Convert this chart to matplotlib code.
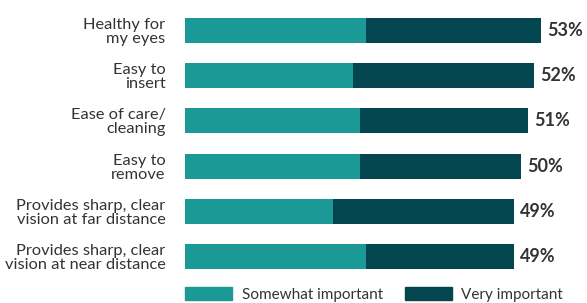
import matplotlib
matplotlib.use("Agg")
import matplotlib.pyplot as plt
from matplotlib.patches import Patch

categories = ["Healthy for\nmy eyes", "Easy to\ninsert", "Ease of care/\ncleaning",
              "Easy to\nremove", "Provides sharp, clear\nvision at far distance",
              "Provides sharp, clear\nvision at near distance"]
somewhat = [27, 25, 26, 26, 22, 27]
very = [26, 27, 25, 24, 27, 22]
totals = [53, 52, 51, 50, 49, 49]
series_names = ["Somewhat important", "Very important"]

c_some = "#1b9997"
c_very = "#03464f"
txt = "#333333"

plt.rcParams['font.family'] = ['Lato', 'DejaVu Sans']

W, H = 587, 303
fig = plt.figure(figsize=(W/100, H/100), dpi=100)
ax = fig.add_axes([185/W, (H-279.1)/H, (W-185)/W, (279.1-7.9)/H])

y = list(range(len(categories)))
ax.barh(y, somewhat, height=0.553, color=c_some)
ax.barh(y, very, left=somewhat, height=0.553, color=c_very)
for yi, t in zip(y, totals):
    ax.text(t + 0.9, yi, f"{t}%", va="center", ha="left", fontsize=13,
            fontweight="bold", color=txt)
ax.set_xlim(0, 402/6.72)
ax.set_ylim(len(categories)-0.5, -0.5)
ax.set_yticks(y)
ax.set_yticklabels(categories, fontsize=11.8, color=txt, linespacing=1.0)
ax.tick_params(axis='y', length=0, pad=14)
ax.set_xticks([])
for s in ax.spines.values():
    s.set_visible(False)

handles = [Patch(color=c_some), Patch(color=c_very)]
fig.legend(handles, series_names, loc="lower left", bbox_to_anchor=(185/W, 0.004),
           ncol=2, frameon=False, fontsize=11, handlelength=3.1, handleheight=0.95,
           handletextpad=0.6, columnspacing=1.45, borderpad=0, borderaxespad=0,
           labelcolor=txt)

fig.savefig("out.png", dpi=100)
